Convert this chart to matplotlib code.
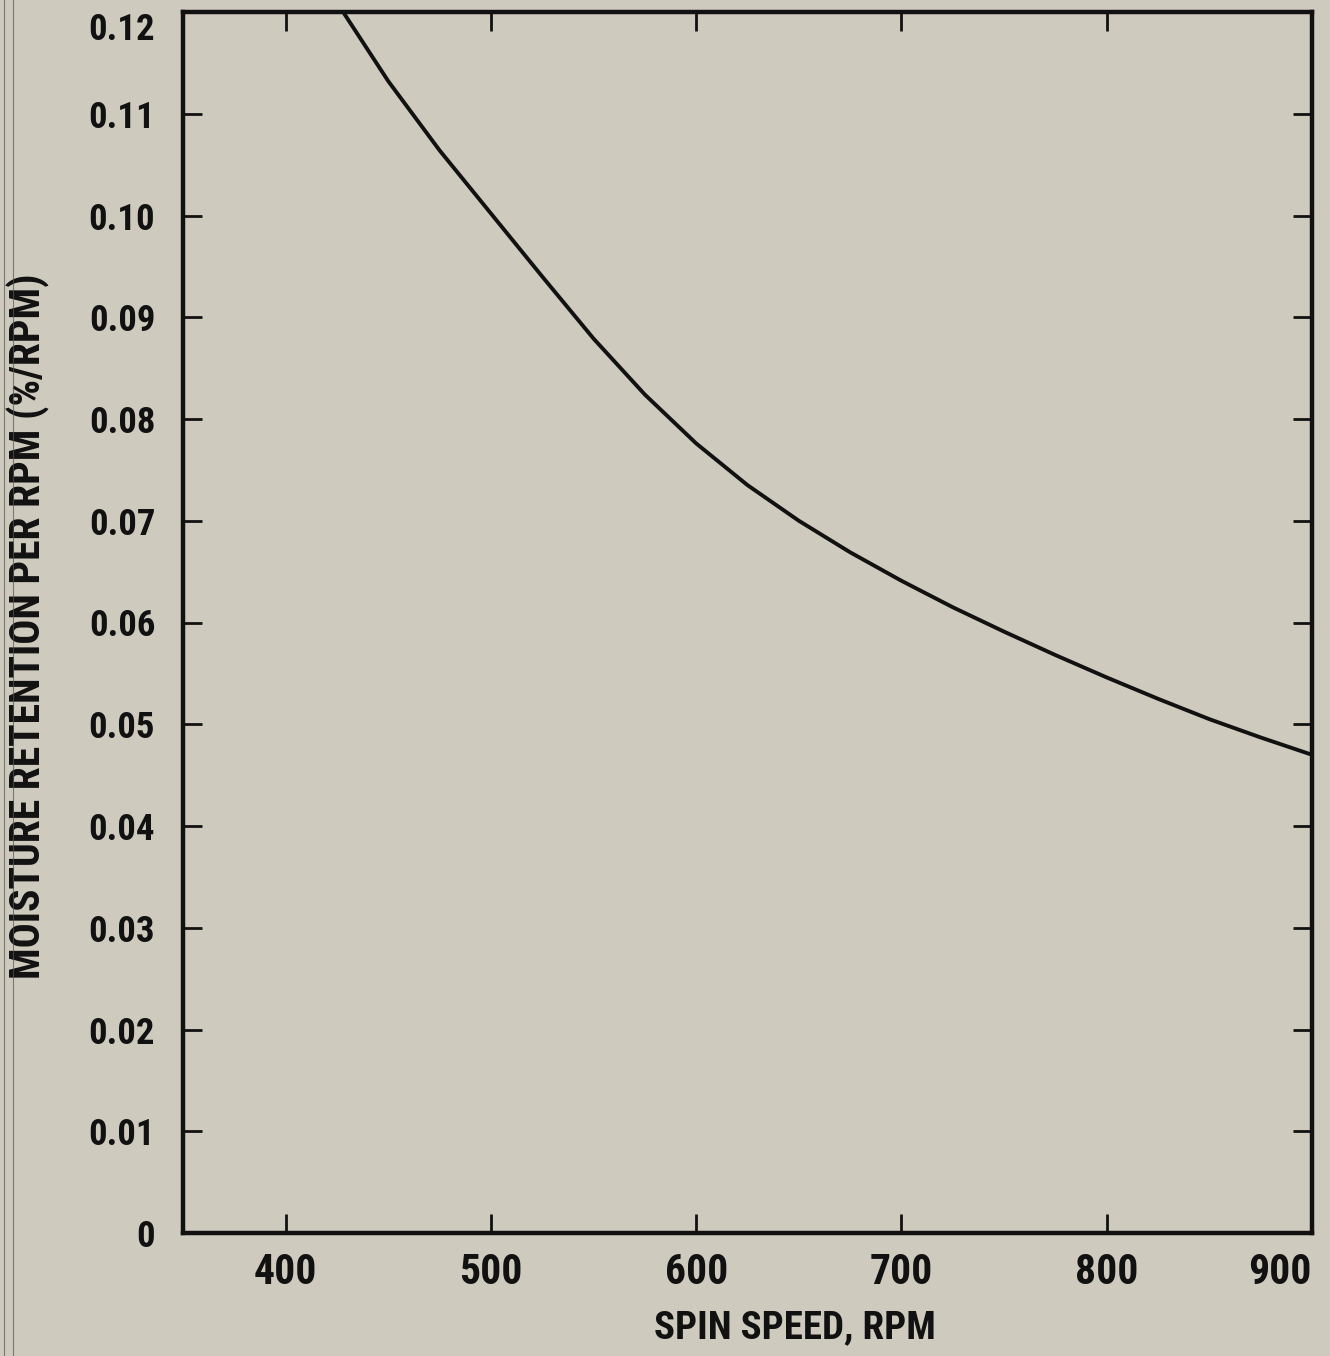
import numpy as np
import matplotlib
matplotlib.use("Agg")
from matplotlib import pyplot as plt
from matplotlib import font_manager as fm
from matplotlib.lines import Line2D

## data
##------------------------------------------------------------------------
spin_rpm = [428, 450, 475, 500, 525, 550, 575, 600, 625, 650, 675, 700,
            725, 750, 775, 800, 825, 850, 875, 900]
retention = [0.1200, 0.1132, 0.1064, 0.1002, 0.0940, 0.0879, 0.0824, 0.0776,
             0.0735, 0.0700, 0.0669, 0.0641, 0.0615, 0.0591, 0.0568, 0.0546,
             0.0525, 0.0505, 0.0487, 0.0470]

x_ticks = [400, 500, 600, 700, 800, 900]
y_ticks = [0, 0.01, 0.02, 0.03, 0.04, 0.05, 0.06, 0.07, 0.08, 0.09, 0.10, 0.11, 0.12]
y_labels = ["0", "0.01", "0.02", "0.03", "0.04", "0.05", "0.06", "0.07",
            "0.08", "0.09", "0.10", "0.11", "0.12"]

paper = "#cfcabe"
ink = "#111111"


## helper: find a narrow bold face if one is installed
##------------------------------------------------------------------------
def narrow_bold_font():
  prefs = ["liberationsansnarrow-bold", "robotocondensed-bold",
           "dejavusanscondensed-bold", "opensans_condensed-bold",
           "opensanscondensed-bold", "notosans-condensedbold"]
  files = [f.fname for f in fm.fontManager.ttflist]
  for p in prefs:
    for fn in files:
      base = fn.lower().replace(" ", "").split("/")[-1]
      if base.startswith(p) and "italic" not in base:
        return fn
  for fn in files:
    base = fn.lower().split("/")[-1]
    if ("narrow" in base or "condensed" in base) and "bold" in base \
       and "italic" not in base and "oblique" not in base and "semi" not in base \
       and "extra" not in base:
      return fn
  return None

narrow = narrow_bold_font()

def font(size):
  if narrow:
    return fm.FontProperties(fname=narrow, size=size)
  return fm.FontProperties(family="DejaVu Sans", weight="bold", size=size*0.8)


fig = plt.figure(figsize=(13.3, 13.56), dpi=100, facecolor=paper)
ax = fig.add_axes([183/1330, 1 - 1233/1356, (1312-183)/1330, (1233-12)/1356])
ax.set_facecolor(paper)

ax.plot(spin_rpm, retention, color=ink, lw=2.8, solid_capstyle="butt",
        solid_joinstyle="round")

ax.set_xlim(350, 900)
ax.set_ylim(0, 0.12)
ax.set_xticks(x_ticks)
xt = ax.set_xticklabels([str(v) for v in x_ticks], fontproperties=font(30), color=ink)
ax.set_yticks(y_ticks)
yt = ax.set_yticklabels(y_labels, fontproperties=font(26.5), color=ink)

## end labels sit inside the figure, as on the original
xt[-1].set_horizontalalignment("right")
yt[-1].set_verticalalignment("top")

ax.tick_params(axis="both", direction="in", length=14, width=2.0, color=ink,
               top=True, right=True)
ax.tick_params(axis="x", pad=14)
ax.tick_params(axis="y", pad=20)

for s in ax.spines.values():
  s.set_linewidth(3.2)
  s.set_color(ink)

ax.set_xlabel("SPIN SPEED, RPM", fontproperties=font(28), color=ink, va="center")
ax.xaxis.set_label_coords(0.542, -0.078)
ax.set_ylabel("MOISTURE RETENTION PER RPM (%/RPM)", fontproperties=font(30),
              color=ink, va="center")
ax.yaxis.set_label_coords(-0.137, 0.497)

## scan edge lines at the left margin
for xp in (4, 13):
  fig.add_artist(Line2D([xp/1330, xp/1330], [0, 1], transform=fig.transFigure,
                        color="#555555", lw=0.8, alpha=0.7))

fig.savefig("out.png", dpi=100, facecolor=paper)
